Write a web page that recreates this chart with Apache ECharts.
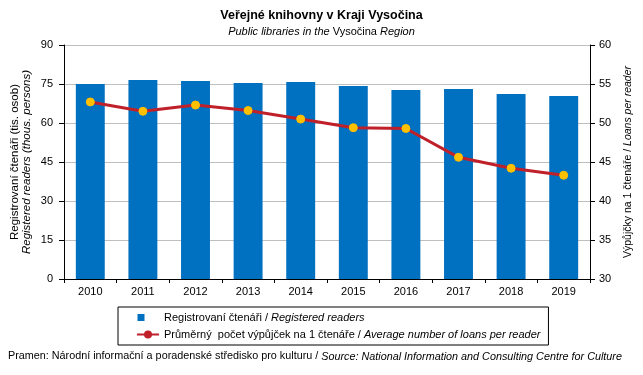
<!DOCTYPE html>
<html>
<head>
<meta charset="utf-8">
<script src="https://cdn.jsdelivr.net/npm/echarts@6/dist/echarts.min.js"></script>
<style>
    html, body {margin: 0; padding: 0; background: #fff;}
    #chart {width: 643px; height: 375px;}
</style>
</head>
<body>
<div id="chart"></div>
<script>
    var years = ['2010', '2011', '2012', '2013', '2014', '2015', '2016', '2017', '2018', '2019'];
    // registrovaní čtenáři (tis. osob)
    var readers = [75.0, 76.5, 76.2, 75.4, 75.8, 74.2, 72.7, 73.1, 71.2, 70.4];
    // průměrný počet výpůjček na 1 čtenáře
    var loans = [52.7, 51.5, 52.3, 51.6, 50.5, 49.4, 49.3, 45.6, 44.2, 43.3];

    var font = 'Liberation Sans, Arial, sans-serif';
    var myChart = echarts.init(document.getElementById('chart'));

    var option = {
        animation: false,
        textStyle: {fontFamily: font, color: '#000'},
        title: {
            left: 'center',
            top: 4,
            itemGap: 4,
            text: 'Veřejné knihovny v Kraji Vysočina',
            textStyle: {fontSize: 12.5, fontWeight: 'bold', color: '#000', fontFamily: font},
            subtext: '{i|Public libraries in the }{n|Vysočina }{i|Region}',
            subtextStyle: {
                rich: {
                    i: {fontSize: 11, fontStyle: 'italic', color: '#000', fontFamily: font},
                    n: {fontSize: 11, color: '#000', fontFamily: font}
                }
            }
        },
        grid: {left: 64, right: 53, top: 45, bottom: 96, outerBoundsMode: 'none'},
        legend: {
            orient: 'vertical',
            left: 118,
            top: 307,
            padding: [5, 8, 5, 18],
            borderColor: '#000',
            borderWidth: 1,
            itemGap: 6,
            itemWidth: 22,
            itemHeight: 10,
            textStyle: {
                fontSize: 11,
                rich: {
                    n: {fontSize: 11, color: '#000', fontFamily: font},
                    i: {fontSize: 11, fontStyle: 'italic', color: '#000', fontFamily: font}
                }
            },
            data: [
                {name: 'readers', icon: 'path://M1,1.5L8,1.5L8,8.5L1,8.5Z M22,0L22,10L22,0Z', itemStyle: {color: '#0070c0'}},
                {name: 'loans', itemStyle: {color: '#c0202a', borderColor: '#c0202a'}}
            ],
            formatter: function (name) {
                if (name === 'readers') return '{n|Registrovaní čtenáři / }{i|Registered readers}';
                return '{n|Průměrný  počet výpůjček na 1 čtenáře / }{i|Average number of loans per reader}';
            }
        },
        xAxis: {
            type: 'category',
            data: years,
            axisLine: {lineStyle: {color: '#000', width: 1}},
            axisTick: {show: true, length: 4, lineStyle: {color: '#000'}},
            axisLabel: {fontSize: 11, color: '#000', margin: 7}
        },
        yAxis: [
            {
                type: 'value',
                min: 0,
                max: 90,
                interval: 15,
                position: 'left',
                name: '{n|Registrovaní čtenáři (tis. osob)}\n{i|Registered readers (thous. persons)}',
                nameLocation: 'middle',
                nameRotate: 90,
                nameMoveOverlap: false,
                nameGap: 31,
                nameTextStyle: {
                    lineHeight: 12,
                    rich: {
                        n: {fontSize: 11.5, color: '#000', fontFamily: font, lineHeight: 12},
                        i: {fontSize: 11.5, fontStyle: 'italic', color: '#000', fontFamily: font, lineHeight: 12}
                    }
                },
                axisLine: {show: true, lineStyle: {color: '#000'}},
                axisTick: {show: true, length: 5, lineStyle: {color: '#000'}},
                axisLabel: {fontSize: 11, color: '#000', margin: 11},
                splitLine: {lineStyle: {color: '#bfbfbf', width: 1}}
            },
            {
                type: 'value',
                min: 30,
                max: 60,
                interval: 5,
                position: 'right',
                name: '{n|Výpůjčky na 1 čtenáře / }{i|Loans per reader}',
                nameLocation: 'middle',
                nameRotate: 90,
                nameMoveOverlap: false,
                nameGap: 33,
                nameTextStyle: {
                    rich: {
                        n: {fontSize: 10.5, color: '#000', fontFamily: font},
                        i: {fontSize: 10.5, fontStyle: 'italic', color: '#000', fontFamily: font}
                    }
                },
                axisLine: {show: true, lineStyle: {color: '#000'}},
                axisTick: {show: true, length: 5, lineStyle: {color: '#000'}},
                axisLabel: {fontSize: 11, color: '#000', margin: 9},
                splitLine: {show: false}
            }
        ],
        series: [
            {
                name: 'readers',
                type: 'bar',
                yAxisIndex: 0,
                barWidth: '55%',
                itemStyle: {color: '#0070c0'},
                data: readers
            },
            {
                name: 'loans',
                type: 'line',
                yAxisIndex: 1,
                symbol: 'circle',
                symbolSize: 8,
                lineStyle: {color: '#c0202a', width: 3},
                itemStyle: {color: '#ffc000', borderColor: '#ffc000'},
                data: loans
            }
        ],
        graphic: [{
            type: 'text',
            left: 8,
            top: 351,
            style: {
                text: '{n|Pramen: Národní informační a poradenské středisko pro kulturu / }{i|Source: National Information and Consulting Centre for Culture}',
                rich: {
                    n: {fontSize: 10.8, fill: '#000', fontFamily: font, verticalAlign: 'middle'},
                    i: {fontSize: 10.8, fontStyle: 'italic', fill: '#000', fontFamily: font, verticalAlign: 'middle'}
                }
            }
        }]
    };
    myChart.setOption(option);
</script>
</body>
</html>
